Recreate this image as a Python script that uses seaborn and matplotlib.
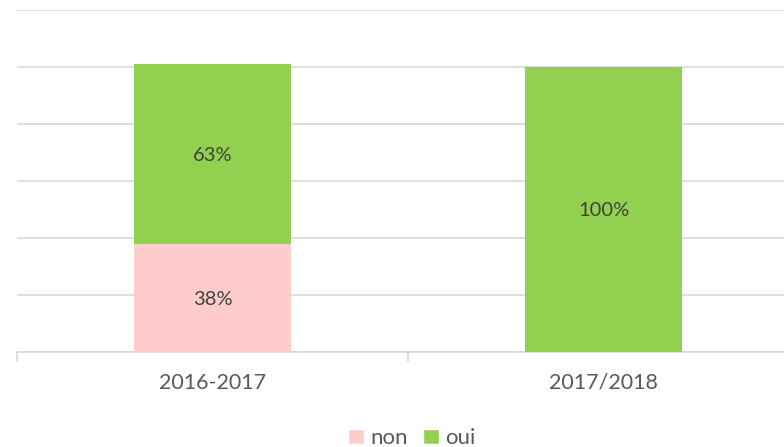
import pandas as pd
import matplotlib.pyplot as plt
import seaborn as sns
from matplotlib.patches import Patch

# Data
years = ["2016-2017", "2017/2018"]
non_pct = [38, 0]
oui_pct = [63, 100]

sns.set_theme(style="white")
plt.rcParams['font.family'] = ['Lato', 'DejaVu Sans']

df = pd.DataFrame({"year": years, "non": non_pct, "oui": oui_pct})
df["total"] = df["non"] + df["oui"]

fig = plt.figure(figsize=(7.84, 4.47), dpi=100)
ax = fig.add_axes([17 / 784, 95 / 447, 782 / 784, 342 / 447])

pink = "#FFCCCC"
green = "#92D050"
text_col = "#595959"

# stacked: draw the total in green, then the bottom part in pink
sns.barplot(data=df, x="year", y="total", color=green, width=0.4, saturation=1,
            linewidth=0, ax=ax, zorder=3)
sns.barplot(data=df, x="year", y="non", color=pink, width=0.4, saturation=1,
            linewidth=0, ax=ax, zorder=3)

# value labels
for i, row in df.iterrows():
    if row["non"] > 0:
        ax.text(i, row["non"] / 2, f"{row['non']}%", ha="center", va="center_baseline",
                fontsize=14.5, color="#404040", zorder=4)
    if row["oui"] > 0:
        ax.text(i, row["non"] + row["oui"] / 2, f"{row['oui']}%", ha="center",
                va="center_baseline", fontsize=14.5, color="#404040", zorder=4)

ax.set_xlim(-0.5, 1.5)
ax.set_ylim(0, 120)
ax.set_yticks(range(0, 121, 20))
ax.yaxis.grid(True, color="#d9d9d9", linewidth=1.2, zorder=0)
ax.set_yticklabels([])
ax.tick_params(axis="y", length=0)

for side in ["top", "right", "left"]:
    ax.spines[side].set_visible(False)
ax.spines["bottom"].set_color("#d9d9d9")
ax.spines["bottom"].set_linewidth(1.2)

ax.set_xticks([0, 1])
ax.set_xticklabels(years, fontsize=15.5, color=text_col)
ax.set_xticks([-0.5, 0.5, 1.5], minor=True)
ax.tick_params(axis="x", which="major", bottom=False, pad=9)
ax.tick_params(axis="x", which="minor", bottom=True, length=7, width=1.2,
               color="#d9d9d9", direction="out")
ax.set_xlabel("")
ax.set_ylabel("")

handles = [Patch(facecolor=pink, label="non"), Patch(facecolor=green, label="oui")]
leg = fig.legend(handles=handles, loc="lower center", bbox_to_anchor=(412 / 784, -0.048),
                 ncol=2, frameon=False, fontsize=16, handlelength=0.7, handleheight=0.7,
                 handletextpad=0.3, columnspacing=0.7)
for t in leg.get_texts():
    t.set_color(text_col)

fig.savefig("out.png", dpi=100)
